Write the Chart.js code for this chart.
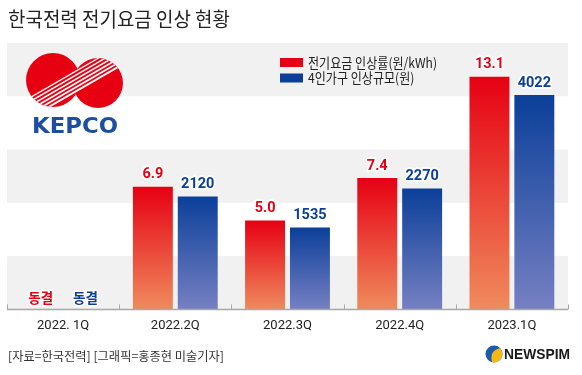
<!DOCTYPE html>
<html><head><meta charset="utf-8">
<script src="https://cdn.jsdelivr.net/npm/chart.js@4/dist/chart.umd.min.js"></script>
<style>html,body{margin:0;padding:0;background:#fff;}#wrap{position:relative;width:582px;height:375px;}</style>
</head><body><div id="wrap"><canvas id="c" width="582" height="375"></canvas></div>
<script>
// ---- data ----
const categories = ['2022. 1Q', '2022.2Q', '2022.3Q', '2022.4Q', '2023.1Q'];
const rateIncrease = [0, 6.9, 5.0, 7.4, 13.1];          // 전기요금 인상률(원/kWh)
const householdIncrease = [0, 2120, 1535, 2270, 4022];  // 4인가구 인상규모(원)
const seriesNames = ['전기요금 인상률(원/kWh)', '4인가구 인상규모(원)'];
const rateTicks = [0, 3, 6, 9, 12, 15];
const householdTicks = [0, 1000, 2000, 3000, 4000, 5000];
const frozenLabel = '동결';
const titleText = '한국전력 전기요금 인상 현황';
const sourceText = '[자료=한국전력] [그래픽=홍종현 미술기자]';
const logoText = 'KEPCO';
const brandText = 'NEWSPIM';

const RED = '#e60013', RED_BOTTOM = '#ef8b5d';
const BLUE = '#0b3f99', BLUE_BOTTOM = '#7680c2';
const KR = '"Noto Sans CJK KR", "Noto Sans", sans-serif';

function barGradient(top, bottom) {
  return (ctx) => {
    const chart = ctx.chart;
    if (!chart.chartArea || ctx.type !== 'data') return top;
    const ds = chart.data.datasets[ctx.datasetIndex];
    const sc = chart.scales[ds.yAxisID];
    if (!sc) return top;
    const v = ds.data[ctx.dataIndex];
    const y0 = sc.getPixelForValue(v), y1 = sc.getPixelForValue(0);
    if (!isFinite(y0) || !isFinite(y1) || y1 - y0 < 1) return top;
    const g = chart.ctx.createLinearGradient(0, y0, 0, y1);
    g.addColorStop(0, top);
    g.addColorStop(1, bottom);
    return g;
  };
}

function fitText(ctx, text, x, y, font, color, width, align) {
  ctx.save();
  ctx.font = font; ctx.fillStyle = color; ctx.textBaseline = 'middle'; ctx.textAlign = 'left';
  const w = ctx.measureText(text).width;
  const s = width ? width / w : 1;
  ctx.translate(x, y); ctx.scale(s, 1);
  ctx.fillText(text, align === 'center' ? -w / 2 : 0, 0);
  ctx.restore();
}

const bandsPlugin = {
  id: 'bands',
  beforeDatasetsDraw(chart) {
    const { ctx, chartArea } = chart;
    const y = chart.scales.y;
    ctx.save();
    ctx.fillStyle = '#f1f1f1';
    for (let i = 0; i < rateTicks.length - 1; i++) {
      if (i % 2 !== 0) continue;
      const top = y.getPixelForValue(rateTicks[i + 1]);
      const bot = y.getPixelForValue(rateTicks[i]);
      ctx.fillRect(chartArea.left, top, chartArea.right - chartArea.left, bot - top);
    }
    ctx.restore();
  }
};

const axisPlugin = {
  id: 'axisLine',
  afterDatasetsDraw(chart) {
    const { ctx, chartArea } = chart;
    const x = chart.scales.x;
    const yb = chartArea.bottom;
    ctx.save();
    ctx.strokeStyle = '#a8a8a8';
    ctx.lineWidth = 1.5;
    ctx.beginPath(); ctx.moveTo(chartArea.left, yb); ctx.lineTo(chartArea.right, yb); ctx.stroke();
    ctx.lineWidth = 1;
    const n = categories.length;
    const step = (x.right - x.left) / n;
    for (let i = 0; i <= n; i++) {
      const px = Math.round(x.left + i * step) + 0.5;
      ctx.beginPath(); ctx.moveTo(px, yb); ctx.lineTo(px, yb - 5); ctx.stroke();
    }
    ctx.restore();
  }
};

const valueLabelPlugin = {
  id: 'valueLabels',
  afterDatasetsDraw(chart) {
    const { ctx } = chart;
    chart.data.datasets.forEach((ds, di) => {
      const meta = chart.getDatasetMeta(di);
      meta.data.forEach((bar, i) => {
        const v = ds.data[i];
        ctx.save();
        ctx.textAlign = 'center'; ctx.textBaseline = 'middle';
        ctx.lineJoin = 'round';
        let text, y;
        if (v === 0) {
          text = frozenLabel;
          ctx.font = 'bold 13.5px ' + KR;
          y = bar.base - 12;
        } else {
          text = di === 0 ? v.toFixed(1) : String(v);
          ctx.font = 'bold 14.5px Roboto, "Liberation Sans", sans-serif';
          y = bar.y - 12;
        }
        ctx.strokeStyle = '#fff'; ctx.lineWidth = 3.5;
        ctx.strokeText(text, bar.x, y);
        ctx.fillStyle = ds.labelColor;
        ctx.fillText(text, bar.x, y);
        ctx.restore();
      });
    });
  }
};

function drawKepco(ctx) {
  ctx.save();
  ctx.beginPath();
  ctx.arc(53, 80, 27, 0, Math.PI * 2);
  ctx.moveTo(98 + 25, 83);
  ctx.arc(98, 83, 25, 0, Math.PI * 2);
  ctx.clip('nonzero');
  ctx.fillStyle = '#e60012';
  ctx.fillRect(20, 45, 110, 75);
  const ang = -30 * Math.PI / 180;
  const dx = Math.cos(ang), dy = Math.sin(ang);
  const nx = -dy, ny = dx;
  const cx = 76, cy = 82;
  ctx.strokeStyle = '#fff';
  const offs = [-9.5, -6, -2.5, 1, 4.5, 8];
  offs.forEach((d, k) => {
    ctx.lineWidth = 1.3 + k * 0.12;
    const px = cx + nx * d, py = cy + ny * d;
    ctx.beginPath();
    ctx.moveTo(px - dx * 60, py - dy * 60);
    ctx.lineTo(px + dx * 60, py + dy * 60);
    ctx.stroke();
  });
  ctx.restore();
  fitText(ctx, logoText, 32, 127, 'bold 22px "DejaVu Sans", sans-serif', '#1c4f9f', 86);
}

function drawBrand(ctx) {
  ctx.save();
  ctx.beginPath(); ctx.arc(494, 354, 8.5, 0, Math.PI * 2);
  ctx.fillStyle = '#1b5ba8'; ctx.fill();
  ctx.beginPath();
  ctx.moveTo(492, 362.3);
  ctx.quadraticCurveTo(489, 350, 501, 348);
  ctx.arc(494, 354, 8.5, -0.7, 1.75, false);
  ctx.closePath();
  ctx.fillStyle = '#f6b814'; ctx.fill();
  ctx.restore();
  fitText(ctx, brandText, 504, 355, 'bold 15px "Liberation Sans", Arial, sans-serif', '#1a1a1a', 66);
}

const decorPlugin = {
  id: 'decor',
  afterDraw(chart) {
    const ctx = chart.ctx;
    fitText(ctx, titleText, 8, 19, '400 20px ' + KR, '#222', 222);
    drawKepco(ctx);
    ctx.save();
    ctx.font = '13.5px ' + KR;
    const s = 129 / ctx.measureText(seriesNames[0]).width;
    ctx.restore();
    const legendRows = [{ y: 62.5, c: RED }, { y: 78, c: BLUE }];
    chart.data.datasets.forEach((ds, i) => {
      const row = legendRows[i];
      ctx.save();
      ctx.fillStyle = ds.labelColor;
      ctx.fillRect(280, row.y - 4.5, 23, 9);
      ctx.font = '13.5px ' + KR;
      const w = ctx.measureText(ds.label).width * s;
      ctx.restore();
      fitText(ctx, ds.label, 308, row.y, '13.5px ' + KR, '#222', w);
    });
    fitText(ctx, sourceText, 8, 356, '12.5px ' + KR, '#333', 216);
    drawBrand(ctx);
  }
};

new Chart(document.getElementById('c'), {
  type: 'bar',
  data: {
    labels: categories,
    datasets: [
      { label: seriesNames[0], data: rateIncrease, yAxisID: 'y', labelColor: RED,
        backgroundColor: barGradient(RED, RED_BOTTOM), barPercentage: 0.89, categoryPercentage: 0.8 },
      { label: seriesNames[1], data: householdIncrease, yAxisID: 'y1', labelColor: BLUE,
        backgroundColor: barGradient(BLUE, BLUE_BOTTOM), barPercentage: 0.89, categoryPercentage: 0.8 }
    ]
  },
  options: {
    responsive: false, animation: false, devicePixelRatio: 1,
    layout: { padding: { left: 7, right: 14, top: 43, bottom: 32 } },
    plugins: { legend: { display: false }, title: { display: false }, tooltip: { enabled: false } },
    scales: {
      x: {
        grid: { display: false, drawTicks: false }, border: { display: false },
        ticks: { color: '#222', font: { family: 'Roboto, "Liberation Sans", sans-serif', size: 13 }, padding: 9 }
      },
      y: { display: false, min: rateTicks[0], max: rateTicks[rateTicks.length - 1],
           afterBuildTicks: (sc) => { sc.ticks = rateTicks.map(v => ({ value: v })); } },
      y1: { display: false, min: householdTicks[0], max: householdTicks[householdTicks.length - 1],
           afterBuildTicks: (sc) => { sc.ticks = householdTicks.map(v => ({ value: v })); } }
    }
  },
  plugins: [bandsPlugin, axisPlugin, valueLabelPlugin, decorPlugin]
});
</script>
</body></html>
